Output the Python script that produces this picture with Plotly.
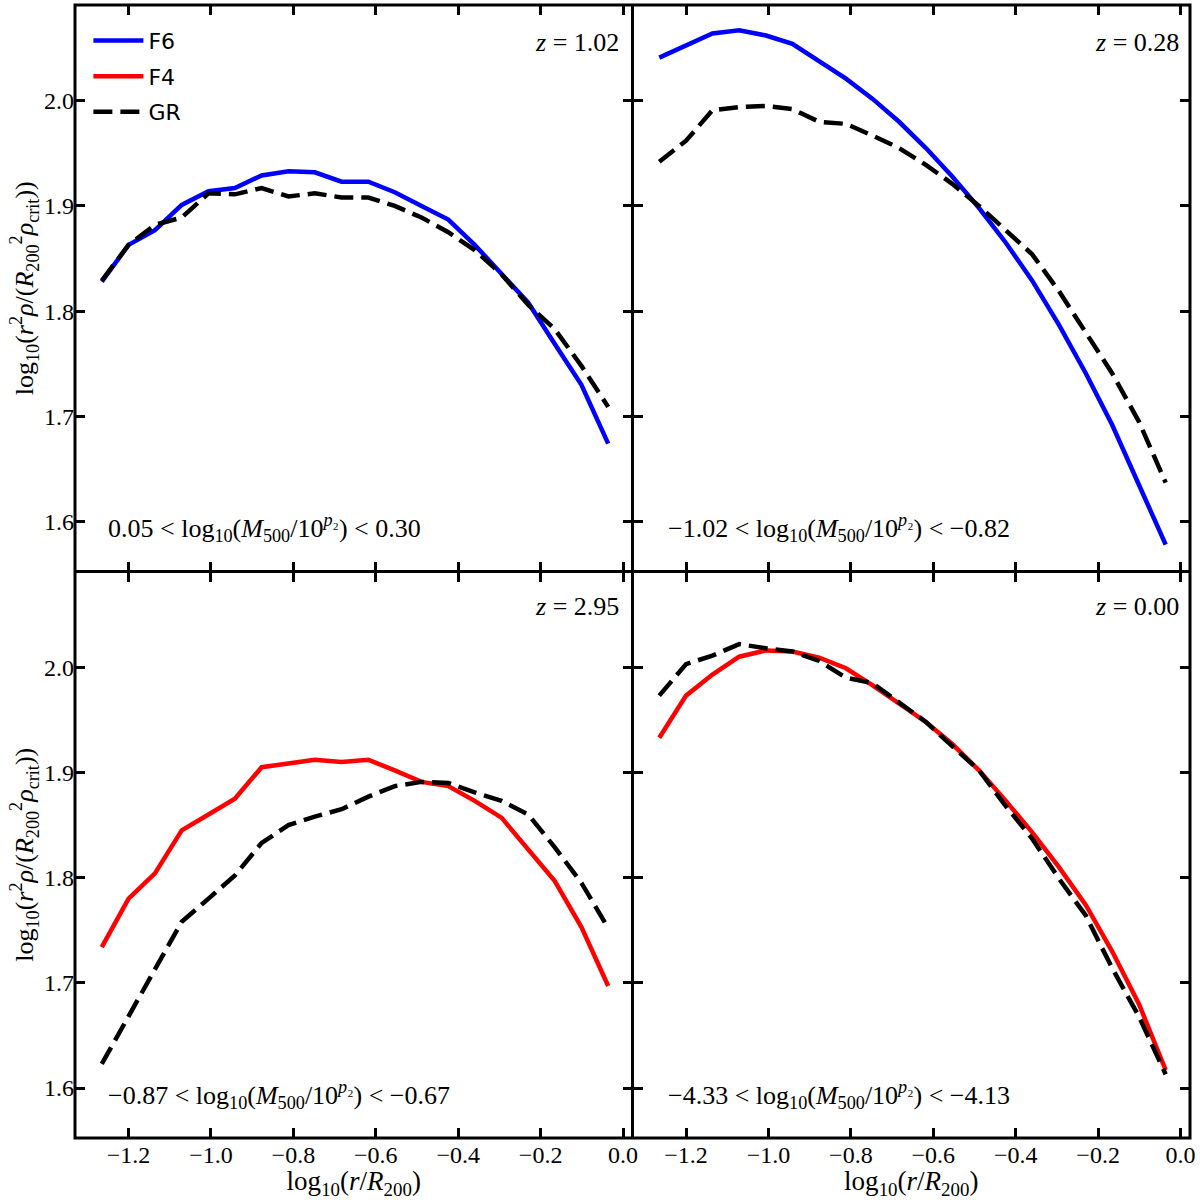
import plotly.graph_objects as go
from plotly.subplots import make_subplots

# radial bins, log10(r/R200)
log_r = [-1.265, -1.200, -1.136, -1.071, -1.006, -0.942, -0.877, -0.812, -0.748, -0.683,
         -0.618, -0.554, -0.489, -0.424, -0.360, -0.295, -0.230, -0.166, -0.101, -0.036]

# top-left: z = 1.02, F6 vs GR
tl_f6 = [1.828, 1.863, 1.877, 1.901, 1.914, 1.917, 1.929, 1.933, 1.932, 1.923,
         1.923, 1.913, 1.900, 1.887, 1.863, 1.836, 1.808, 1.769, 1.730, 1.674]
tl_gr = [1.829, 1.863, 1.882, 1.889, 1.912, 1.911, 1.917, 1.909, 1.912, 1.908,
         1.908, 1.900, 1.889, 1.875, 1.858, 1.835, 1.806, 1.783, 1.748, 1.709]

# top-right: z = 0.28, F6 vs GR
tr_f6 = [2.041, 2.053, 2.064, 2.067, 2.062, 2.054, 2.038, 2.021, 2.002, 1.980,
         1.955, 1.928, 1.898, 1.865, 1.829, 1.787, 1.741, 1.692, 1.635, 1.578]
tr_gr = [1.942, 1.962, 1.991, 1.994, 1.995, 1.992, 1.980, 1.978, 1.967, 1.955,
         1.939, 1.921, 1.900, 1.877, 1.854, 1.819, 1.780, 1.741, 1.695, 1.637]

# bottom-left: z = 2.95, F4 vs GR
bl_f4 = [1.734, 1.780, 1.804, 1.845, 1.860, 1.875, 1.905, 1.909, 1.912, 1.910,
         1.912, 1.902, 1.891, 1.887, 1.873, 1.857, 1.826, 1.797, 1.753, 1.697]
bl_gr = [1.623, 1.668, 1.714, 1.758, 1.780, 1.802, 1.833, 1.850, 1.858, 1.865,
         1.877, 1.887, 1.891, 1.890, 1.881, 1.873, 1.860, 1.829, 1.795, 1.752]

# bottom-right: z = 0.00, F4 vs GR
br_f4 = [1.933, 1.973, 1.993, 2.010, 2.016, 2.015, 2.009, 1.999, 1.983, 1.965,
         1.948, 1.927, 1.902, 1.873, 1.843, 1.810, 1.774, 1.730, 1.680, 1.617]
br_gr = [1.973, 2.003, 2.011, 2.022, 2.018, 2.015, 2.006, 1.990, 1.985, 1.967,
         1.948, 1.925, 1.902, 1.868, 1.837, 1.799, 1.764, 1.714, 1.668, 1.613]

redshift_labels = ["1.02", "0.28", "2.95", "0.00"]
mass_labels = [("0.05", "0.30"), ("−1.02", "−0.82"), ("−0.87", "−0.67"), ("−4.33", "−4.13")]

x_ticks = [-1.2, -1.0, -0.8, -0.6, -0.4, -0.2, 0.0]
x_ticktext = ["−1.2", "−1.0", "−0.8", "−0.6", "−0.4", "−0.2", "0.0"]
y_ticks = [1.6, 1.7, 1.8, 1.9, 2.0]
y_ticktext = ["1.6", "1.7", "1.8", "1.9", "2.0"]

BLUE = "#0000ff"
RED = "#ff0000"
LW = 4.5
DASH = "19px,8px"
SERIF = "Liberation Serif"

fig = make_subplots(rows=2, cols=2, horizontal_spacing=0, vertical_spacing=0)

panels = [
    (1, 1, tl_f6, "F6", BLUE, tl_gr),
    (1, 2, tr_f6, "F6", BLUE, tr_gr),
    (2, 1, bl_f4, "F4", RED, bl_gr),
    (2, 2, br_f4, "F4", RED, br_gr),
]
shown = set()
for r, c, mod, name, col, gr in panels:
    show_mod = name not in shown
    shown.add(name)
    fig.add_trace(go.Scatter(x=log_r, y=mod, mode="lines", name=name, legendgroup=name,
                             line=dict(color=col, width=LW),
                             showlegend=show_mod, legendrank=1 if name == "F6" else 2),
                  row=r, col=c)
    fig.add_trace(go.Scatter(x=log_r, y=gr, mode="lines", name="GR", legendgroup="GR",
                             line=dict(color="black", width=LW, dash=DASH),
                             showlegend=("GR" not in shown), legendrank=3),
                  row=r, col=c)
    shown.add("GR")

xtitle = "log<sub>10</sub>(<i>r</i>/<i>R</i><sub>200</sub>)"
ytitle = ("log<sub>10</sub>(<i>r</i><sup>2</sup><i>ρ</i>/(<i>R</i><sub>200</sub><sup>2</sup>"
          "<i>ρ</i><sub>crit</sub>))")

axis_common = dict(showline=False, mirror="ticks",
                   ticks="inside", ticklen=10, tickwidth=2.5, tickcolor="black",
                   showgrid=False, zeroline=False,
                   tickfont=dict(family=SERIF, size=24, color="black"))

for r in (1, 2):
    for c in (1, 2):
        fig.update_xaxes(range=[-1.33, 0.023], tickvals=x_ticks, ticktext=x_ticktext,
                         showticklabels=(r == 2),
                         title=dict(text=xtitle if r == 2 else "",
                                    font=dict(family=SERIF, size=27, color="black"),
                                    standoff=0),
                         row=r, col=c, **axis_common)
        fig.update_yaxes(range=[1.5525, 2.091], tickvals=y_ticks, ticktext=y_ticktext,
                         showticklabels=(c == 1),
                         title=dict(text=ytitle if c == 1 else "",
                                    font=dict(family=SERIF, size=26, color="black"),
                                    standoff=2),
                         row=r, col=c, **axis_common)

# panel frames
frame = dict(type="line", xref="paper", yref="paper", line=dict(color="black", width=3))
fig.add_shape(type="rect", xref="paper", yref="paper", x0=0, x1=1, y0=0, y1=1,
              line=dict(color="black", width=3))
fig.add_shape(x0=0.5, x1=0.5, y0=0, y1=1, **frame)
fig.add_shape(x0=0, x1=1, y0=0.5, y1=0.5, **frame)

axis_names = [("x", "y"), ("x2", "y2"), ("x3", "y3"), ("x4", "y4")]
z_pos = [(0.98, 0.933), (0.984, 0.933), (0.98, 0.938), (0.984, 0.938)]
m_pos = [(0.056, 0.076), (0.06, 0.076), (0.056, 0.076), (0.06, 0.076)]
for (xa, ya), zl, (lo, hi), zp, mp in zip(axis_names, redshift_labels, mass_labels, z_pos, m_pos):
    fig.add_annotation(xref=f"{xa} domain", yref=f"{ya} domain", x=zp[0], y=zp[1],
                       text=f"<i>z</i> = {zl}", showarrow=False, xanchor="right", yanchor="middle",
                       font=dict(family=SERIF, size=26, color="black"))
    fig.add_annotation(xref=f"{xa} domain", yref=f"{ya} domain", x=mp[0], y=mp[1],
                       text=(f"{lo} &lt; log<sub>10</sub>(<i>M</i><sub>500</sub>/10<sup><i>p</i>₂</sup>)"
                             f" &lt; {hi}"),
                       showarrow=False, xanchor="left", yanchor="middle",
                       font=dict(family=SERIF, size=26, color="black"))

fig.update_layout(
    width=1200, height=1200,
    margin=dict(l=75, r=10, t=5, b=62),
    paper_bgcolor="white", plot_bgcolor="white",
    legend=dict(x=0.012, y=0.987, xanchor="left", yanchor="top",
                bgcolor="rgba(0,0,0,0)", borderwidth=0,
                font=dict(family="DejaVu Sans", size=22, color="black"),
                tracegroupgap=4, itemwidth=50),
)

fig.write_html("out.html")
